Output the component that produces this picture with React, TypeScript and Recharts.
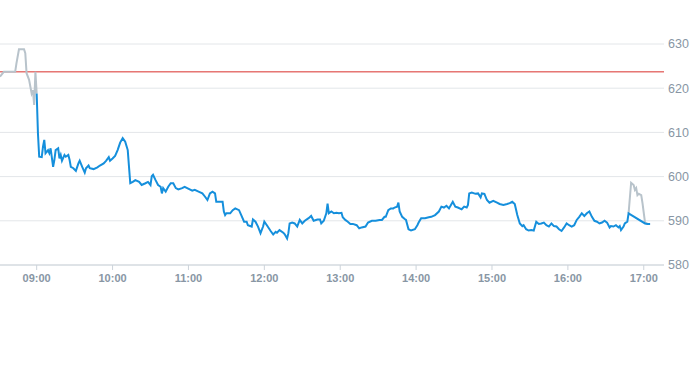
import { LineChart, Line, XAxis, YAxis, CartesianGrid, ReferenceLine } from 'recharts';

// pre-market (grey)
const preTimes = ['08:31', '08:34', '08:43', '08:44', '08:46', '08:50', '08:51', '08:52', '08:54', '08:56', '08:57', '08:58', '08:59', '09:00'];
const prePrices = [622.6, 623.7, 623.7, 625.6, 628.8, 628.8, 627.9, 623.4, 621.9, 618.8, 619.6, 616.2, 623.7, 618.8];

// regular session (blue)
const sessionTimes = [
  '09:00', '09:01', '09:02', '09:04', '09:05', '09:06', '09:07', '09:09', '09:10', '09:11',
  '09:13', '09:14', '09:15', '09:17', '09:18', '09:19', '09:20', '09:22', '09:23', '09:25',
  '09:26', '09:27', '09:29', '09:31', '09:33', '09:34', '09:36', '09:38', '09:39', '09:41',
  '09:42', '09:45', '09:48', '09:50', '09:53', '09:55', '09:57', '09:58', '10:00', '10:02',
  '10:04', '10:06', '10:08', '10:10', '10:12', '10:13', '10:14', '10:16', '10:18', '10:21',
  '10:23', '10:26', '10:28', '10:30', '10:31', '10:32', '10:34', '10:36', '10:38', '10:39',
  '10:40', '10:42', '10:44', '10:46', '10:48', '10:50', '10:52', '10:55', '10:57', '10:59',
  '11:01', '11:03', '11:05', '11:08', '11:11', '11:13', '11:15', '11:17', '11:19', '11:21',
  '11:22', '11:25', '11:27', '11:28', '11:29', '11:30', '11:33', '11:35', '11:37', '11:40',
  '11:42', '11:44', '11:46', '11:47', '11:50', '11:51', '11:53', '11:55', '11:57', '11:59',
  '12:00', '12:02', '12:05', '12:07', '12:09', '12:10', '12:12', '12:15', '12:16', '12:18',
  '12:19', '12:20', '12:22', '12:24', '12:26', '12:28', '12:30', '12:32', '12:35', '12:37',
  '12:39', '12:42', '12:44', '12:45', '12:47', '12:49', '12:50', '12:51', '12:53', '12:55',
  '12:57', '12:59', '13:01', '13:02', '13:04', '13:06', '13:08', '13:10', '13:13', '13:15',
  '13:17', '13:20', '13:22', '13:25', '13:28', '13:31', '13:33', '13:35', '13:36', '13:38',
  '13:40', '13:42', '13:43', '13:45', '13:46', '13:47', '13:49', '13:51', '13:52', '13:54',
  '13:56', '13:59', '14:01', '14:02', '14:04', '14:07', '14:10', '14:12', '14:15', '14:18',
  '14:20', '14:22', '14:24', '14:26', '14:28', '14:29', '14:31', '14:33', '14:36', '14:38',
  '14:40', '14:41', '14:42', '14:44', '14:47', '14:49', '14:51', '14:52', '14:54', '14:56',
  '14:58', '15:01', '15:04', '15:06', '15:09', '15:12', '15:14', '15:16', '15:18', '15:20',
  '15:22', '15:24', '15:25', '15:27', '15:29', '15:31', '15:33', '15:35', '15:37', '15:39',
  '15:41', '15:43', '15:45', '15:47', '15:49', '15:51', '15:53', '15:55', '15:57', '15:59',
  '16:01', '16:03', '16:05', '16:07', '16:09', '16:11', '16:13', '16:15', '16:17', '16:19',
  '16:21', '16:23', '16:25', '16:27', '16:29', '16:31', '16:33', '16:34', '16:36', '16:38',
  '16:40', '16:41', '16:42', '16:44', '16:45', '16:47', '16:48', '17:01', '17:03', '17:05',
];
const sessionPrices = [
  618.8, 609.8, 604.5, 604.4, 606.8, 608.3, 605.3, 606.0, 605.3, 606.4,
  602.2, 603.8, 606.0, 606.4, 604.1, 604.9, 603.6, 604.9, 604.5, 604.9,
  603.8, 602.2, 601.9, 601.3, 603.0, 603.6, 602.2, 600.9, 601.9, 602.5,
  601.9, 601.7, 602.1, 602.5, 603.0, 603.6, 604.4, 603.6, 604.1, 604.7,
  606.0, 607.7, 608.7, 607.9, 606.0, 602.2, 598.5, 598.8, 599.2, 598.8,
  598.1, 598.5, 598.8, 598.1, 600.1, 600.4, 599.2, 598.1, 597.7, 596.2,
  597.4, 596.6, 597.7, 598.5, 598.5, 597.4, 597.1, 597.4, 597.7, 597.4,
  597.1, 596.8, 597.0, 596.6, 596.2, 595.5, 594.7, 596.2, 596.6, 596.2,
  594.3, 594.3, 594.3, 592.1, 591.3, 591.7, 591.7, 592.4, 592.8, 592.4,
  591.1, 589.8, 589.8, 589.0, 588.7, 590.3, 589.8, 588.7, 587.2, 588.7,
  589.8, 589.0, 587.7, 586.9, 587.5, 587.3, 587.9, 587.3, 587.0, 586.0,
  587.2, 589.4, 589.6, 589.4, 588.7, 590.2, 589.4, 590.0, 590.6, 591.1,
  590.0, 590.3, 590.3, 589.4, 590.0, 591.7, 593.9, 591.7, 592.1, 591.7,
  591.8, 591.7, 591.8, 590.8, 590.2, 589.8, 589.3, 589.3, 589.0, 588.3,
  588.5, 588.7, 589.6, 590.0, 590.0, 590.2, 590.2, 590.9, 590.9, 592.4,
  592.8, 592.8, 593.0, 593.2, 594.1, 592.1, 590.9, 590.4, 590.2, 588.1,
  587.8, 588.1, 589.0, 589.6, 590.6, 590.6, 590.8, 590.9, 591.3, 592.1,
  593.2, 593.0, 593.4, 592.8, 593.8, 594.3, 593.2, 593.0, 592.6, 593.2,
  593.0, 593.6, 596.2, 596.4, 596.1, 596.2, 595.3, 596.2, 596.1, 594.7,
  594.1, 594.5, 594.1, 593.8, 593.6, 593.8, 594.0, 594.3, 593.8, 591.3,
  589.4, 588.8, 589.0, 588.1, 587.8, 587.9, 587.8, 589.8, 589.3, 589.4,
  589.6, 589.0, 588.7, 589.4, 588.8, 588.7, 588.1, 587.7, 588.5, 589.4,
  589.0, 588.7, 589.0, 590.2, 590.9, 591.7, 591.1, 591.7, 592.1, 590.9,
  590.0, 589.8, 589.4, 589.6, 590.0, 589.6, 588.5, 588.8, 588.7, 589.0,
  588.5, 588.8, 587.9, 588.7, 589.4, 589.8, 591.7, 589.4, 589.3, 589.3,
];

// after-hours (grey)
const afterTimes = ['16:48', '16:50', '16:52', '16:53', '16:54', '16:55', '16:56', '16:58', '16:59', '17:01', '17:03', '17:05'];
const afterPrices = [591.7, 598.6, 598.1, 597.0, 597.4, 595.8, 596.1, 595.8, 594.0, 589.6, 589.3, 589.3];

const previousClose = 623.7;
const priceTicks = [580, 590, 600, 610, 620, 630];
const timeTicks = ['09:00', '10:00', '11:00', '12:00', '13:00', '14:00', '15:00', '16:00', '17:00'];

const toMin = (s: string) => {
  const [h, m] = s.split(':').map(Number);
  return h * 60 + m;
};
const fmtTime = (v: number) =>
  `${String(Math.floor(v / 60)).padStart(2, '0')}:${String(v % 60).padStart(2, '0')}`;
const build = (times: string[], prices: number[]) =>
  times.map((t, i) => ({ t: toMin(t), price: prices[i] }));

const preData = build(preTimes, prePrices);
const sessionData = build(sessionTimes, sessionPrices);
const afterData = build(afterTimes, afterPrices);

const tickStyle = { fontSize: 11, fill: '#8896a4', fontFamily: 'Arial, "Liberation Sans", sans-serif' };

export default function App() {
  return (
    <div style={{ position: 'absolute', left: 0, top: 0, width: 693, height: 365, background: '#fff' }}>
      <LineChart width={693} height={365} margin={{ top: 44, right: 0, left: 0, bottom: 70 }}>
        <CartesianGrid vertical={false} stroke="#e3e6e9" />
        <XAxis
          dataKey="t"
          type="number"
          domain={[511, 1036]}
          allowDataOverflow
          ticks={timeTicks.map(toMin)}
          tickFormatter={fmtTime}
          tick={{ ...tickStyle, fontWeight: 'bold' }}
          stroke="#ccd3da"
          tickSize={5}
          tickMargin={4}
          height={30}
        />
        <YAxis
          orientation="right"
          domain={[580, 630]}
          ticks={priceTicks}
          tick={{ ...tickStyle, fontSize: 12.5 }}
          axisLine={false}
          tickLine={false}
          tickSize={2}
          tickMargin={2}
          width={29}
        />
        <ReferenceLine y={previousClose} stroke="#d9302c" strokeWidth={1} />
        <Line data={preData} dataKey="price" stroke="#b8c3cb" strokeWidth={2} dot={false} isAnimationActive={false} />
        <Line data={afterData} dataKey="price" stroke="#b8c3cb" strokeWidth={2} dot={false} isAnimationActive={false} />
        <Line data={sessionData} dataKey="price" stroke="#158fdc" strokeWidth={2} dot={false} isAnimationActive={false} />
      </LineChart>
    </div>
  );
}
